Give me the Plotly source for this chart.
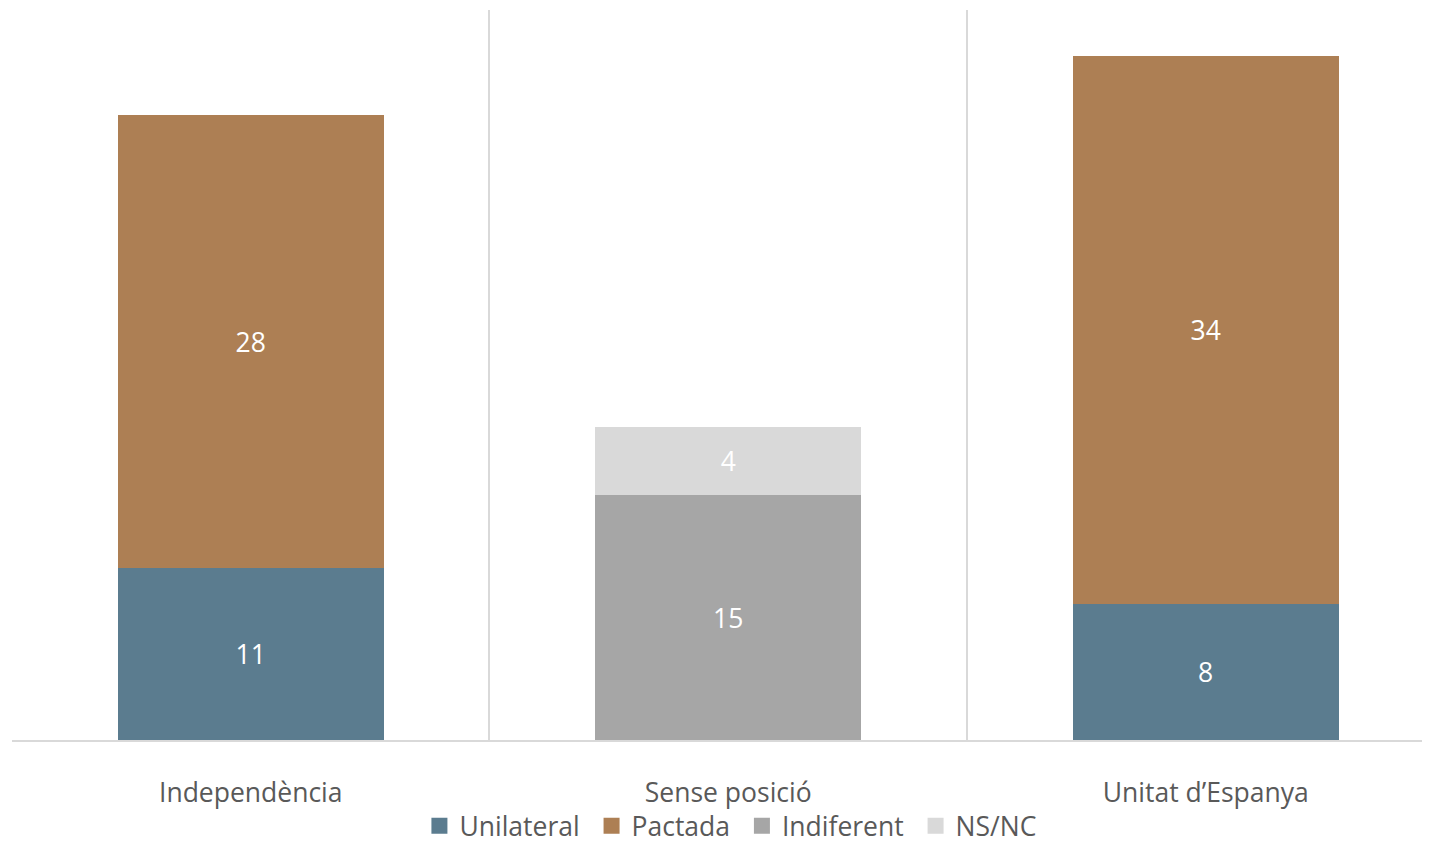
import plotly.graph_objects as go

categories = ["Independència", "Sense posició", "Unitat d’Espanya"]
series_names = ["Unilateral", "Pactada", "Indiferent", "NS/NC"]
unilateral = [10.6, None, 8.38]
pactada = [27.93, None, 33.78]
indiferent = [None, 15.1, None]
nsnc = [None, 4.19, None]
colors = ["#5b7c8f", "#ad7f54", "#a6a6a6", "#d9d9d9"]

FONT = "Open Sans"
FS = 26.5
x_pos = list(range(len(categories)))
fig = go.Figure()
for name, vals, col in zip(series_names, [unilateral, pactada, indiferent, nsnc], colors):
    fig.add_trace(go.Bar(
        x=x_pos, y=vals, name=name, marker=dict(color=col, line=dict(width=0)),
        width=0.557, texttemplate="%{y:.0f}", textposition="inside",
        insidetextanchor="middle", showlegend=False,
        textfont=dict(family=FONT, size=FS, color="white"),
        hoverinfo="skip",
    ))
# legend entries with square markers
for name, col in zip(series_names, colors):
    fig.add_trace(go.Scatter(
        x=[None], y=[None], mode="markers", name=name + "\u00a0",
        marker=dict(symbol="square", size=16, color=col), hoverinfo="skip",
    ))

fig.update_layout(
    barmode="stack",
    width=1414, height=852,
    margin=dict(l=4, r=0, t=2, b=120, autoexpand=False),
    plot_bgcolor="white", paper_bgcolor="white",
    font=dict(family=FONT, color="#595959"),
    showlegend=True,
    legend=dict(orientation="h", x=0.512, xanchor="center", y=-0.118, yanchor="middle",
                bgcolor="rgba(0,0,0,0)",
                font=dict(family=FONT, size=FS, color="#595959"),
                itemwidth=30, traceorder="normal", tracegroupgap=0, itemsizing="trace"),
    xaxis=dict(
        range=[-0.5, 2.453],
        tickvals=x_pos, ticktext=categories,
        tickfont=dict(family=FONT, size=FS, color="#595959"),
        ticks="", showgrid=False, zeroline=False, automargin=False,
        showline=True, linecolor="#d9d9d9", linewidth=2,
        ticklabelstandoff=28,
        minor=dict(tickvals=[-0.5, 0.5, 1.5], showgrid=True, gridcolor="#d9d9d9", gridwidth=2),
    ),
    yaxis=dict(range=[0, 45], visible=False, showgrid=False, zeroline=False),
    uniformtext=dict(minsize=10, mode="show"),
)

fig.write_html("out.html")
